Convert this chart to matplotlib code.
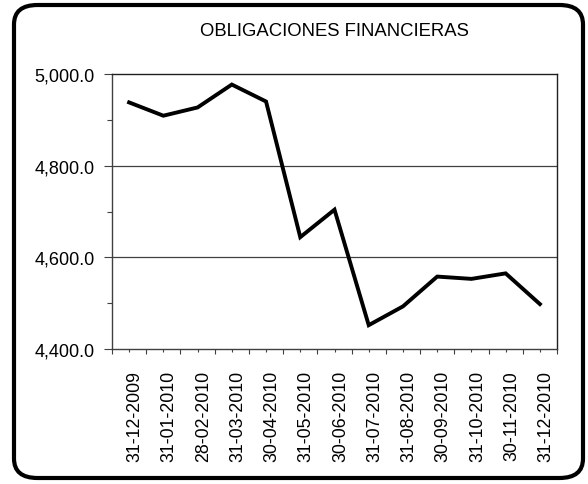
import matplotlib
matplotlib.use("Agg")
import matplotlib.pyplot as plt
from matplotlib.patches import FancyBboxPatch
from matplotlib.ticker import FuncFormatter, MultipleLocator
import matplotlib.transforms as mtransforms

plt.rcParams['font.family'] = ['Liberation Sans', 'DejaVu Sans']

fechas = ["31-12-2009", "31-01-2010", "28-02-2010", "31-03-2010", "30-04-2010",
          "31-05-2010", "30-06-2010", "31-07-2010", "31-08-2010", "30-09-2010",
          "31-10-2010", "30-11-2010", "31-12-2010"]
obligaciones = [4938, 4909, 4927, 4977, 4940, 4644, 4704, 4452, 4493, 4558,
                4553, 4565, 4498]
titulo = "OBLIGACIONES FINANCIERAS"

W, H = 588, 485
fig = plt.figure(figsize=(W / 100, H / 100), dpi=100)
fig.patch.set_facecolor("white")

# rounded frame around the whole chart
frame = FancyBboxPatch((14 / W, 6 / H), (583 - 14) / W, (479 - 6) / H,
                       boxstyle="round,pad=0,rounding_size=0.04",
                       transform=fig.transFigure, facecolor="none",
                       edgecolor="black", linewidth=3.0, zorder=10)
fig.patches.append(frame)

ax = fig.add_axes([112 / W, 1 - 350 / H, (557 - 112) / W, (350 - 75) / H])

x = list(range(len(obligaciones)))
ax.plot(x, obligaciones, color="black", linewidth=2.8,
        solid_joinstyle="miter", zorder=3)

ax.set_xlim(-0.5, len(obligaciones) - 0.5)
ax.set_ylim(4400, 5000)

# y axis
ax.yaxis.set_major_locator(MultipleLocator(200))
ax.yaxis.set_minor_locator(MultipleLocator(100))
ax.yaxis.set_major_formatter(FuncFormatter(lambda v, p: f"{v:,.1f}"))
ax.tick_params(axis="y", which="major", length=6, width=0.8, color="#404040",
               pad=6.5, labelsize=13, direction="out")
ax.tick_params(axis="y", which="minor", length=3.3, width=0.8, color="#404040",
               direction="out")
for v in (4600, 4800):
    ax.axhline(v, color="#404040", linewidth=0.9, zorder=1)

# x axis: boundaries as major ticks, category centres carry the labels
ax.set_xticks([i - 0.5 for i in range(len(obligaciones) + 1)])
ax.set_xticklabels([])
ax.set_xticks(x, labels=fechas, minor=True)
ax.tick_params(axis="x", which="major", length=3.8, width=0.8, color="#404040",
               direction="out")
ax.tick_params(axis="x", which="minor", length=2.2, width=0.8, color="#404040",
               direction="out", pad=13, labelsize=12.8, labelrotation=90)
offset = mtransforms.ScaledTranslation(6 / 100, 0, fig.dpi_scale_trans)
for lbl in ax.get_xticklabels(minor=True):
    lbl.set_transform(lbl.get_transform() + offset)

for side in ("left", "bottom"):
    ax.spines[side].set_color("#404040")
    ax.spines[side].set_linewidth(1.0)
for side in ("top", "right"):
    ax.spines[side].set_color("#202020")
    ax.spines[side].set_linewidth(1.0)

fig.text(334 / W, 1 - 36.5 / H, titulo, ha="center", va="baseline",
         fontsize=13.3)

fig.savefig("out.png", dpi=100, facecolor="white")
